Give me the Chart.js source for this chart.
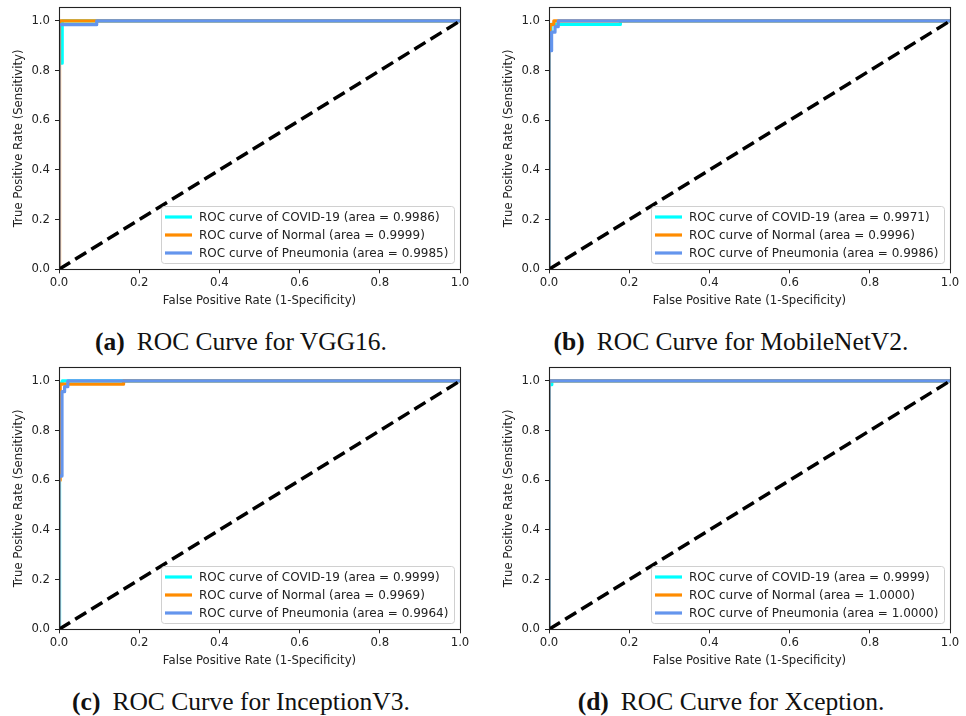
<!DOCTYPE html>
<html>
<head>
<meta charset="utf-8">
<script src="https://cdn.jsdelivr.net/npm/chart.js@4.4.0/dist/chart.umd.min.js"></script>
<style>
body { margin: 0; background: #fff; width: 966px; height: 716px; position: relative; overflow: hidden; }
canvas { position: absolute; display: block; }
.caption { position: absolute; font-family: "Liberation Serif", "Times New Roman", serif; font-size: 25.5px; line-height: 30px; color: #111; white-space: nowrap; transform: translateX(-50%); }
.caption b { margin-right: 12px; }
</style>
</head>
<body>
<canvas id="roc-vgg" width="480" height="312" style="left:0;top:0"></canvas>
<canvas id="roc-mobilenet" width="476" height="312" style="left:490px;top:0"></canvas>
<canvas id="roc-inception" width="480" height="312" style="left:0;top:360px"></canvas>
<canvas id="roc-xception" width="476" height="312" style="left:490px;top:360px"></canvas>

<div class="caption" style="left:241px;top:327px"><b>(a)</b>ROC Curve for VGG16.</div>
<div class="caption" style="left:731px;top:327px"><b>(b)</b>ROC Curve for MobileNetV2.</div>
<div class="caption" style="left:241px;top:687px"><b>(c)</b>ROC Curve for InceptionV3.</div>
<div class="caption" style="left:731px;top:687px"><b>(d)</b>ROC Curve for Xception.</div>

<script>
var xTicks = [0, 0.2, 0.4, 0.6, 0.8, 1.0];
var yTicks = [0, 0.2, 0.4, 0.6, 0.8, 1.0];
var classNames = ['COVID-19', 'Normal', 'Pneumonia'];
var diagonalFpr = [0, 1];
var diagonalTpr = [0, 1];

// VGG16
var vggCovidFpr = [0, 0, 0.008, 0.008, 1];
var vggCovidTpr = [0, 0.83, 0.83, 1, 1];
var vggNormalFpr = [0, 0, 0.002, 0.002, 1];
var vggNormalTpr = [0, 0.97, 0.97, 1, 1];
var vggPneuFpr = [0, 0, 0.094, 0.094, 1];
var vggPneuTpr = [0, 0.985, 0.985, 1, 1];
var vggAreas = [0.9986, 0.9999, 0.9985];

// MobileNetV2
var mobCovidFpr = [0, 0, 0.005, 0.005, 0.178, 0.178, 1];
var mobCovidTpr = [0, 0.9, 0.9, 0.986, 0.986, 1, 1];
var mobNormalFpr = [0, 0, 0.003, 0.003, 0.012, 0.012, 1];
var mobNormalTpr = [0, 0.89, 0.89, 0.985, 0.985, 1, 1];
var mobPneuFpr = [0, 0, 0.0065, 0.0065, 0.015, 0.015, 0.023, 0.023, 1];
var mobPneuTpr = [0, 0.88, 0.88, 0.955, 0.955, 0.977, 0.977, 1, 1];
var mobAreas = [0.9971, 0.9996, 0.9986];

// InceptionV3
var incCovidFpr = [0, 0, 0.002, 0.002, 0.008, 0.008, 1];
var incCovidTpr = [0, 0.96, 0.96, 0.99, 0.99, 1, 1];
var incNormalFpr = [0, 0, 0.003, 0.003, 0.161, 0.161, 1];
var incNormalTpr = [0, 0.6, 0.6, 0.987, 0.987, 1, 1];
var incPneuFpr = [0, 0, 0.0075, 0.0075, 0.014, 0.014, 0.022, 0.022, 1];
var incPneuTpr = [0, 0.617, 0.617, 0.957, 0.957, 0.977, 0.977, 1, 1];
var incAreas = [0.9999, 0.9969, 0.9964];

// Xception
var xcpCovidFpr = [0, 0, 0.007, 0.007, 1];
var xcpCovidTpr = [0, 0.985, 0.985, 1, 1];
var xcpNormalFpr = [0, 0, 1];
var xcpNormalTpr = [0, 1, 1];
var xcpPneuFpr = [0, 0, 1];
var xcpPneuTpr = [0, 1, 1];
var xcpAreas = [0.9999, 1.0000, 1.0000];

var classColors = ['#00ffff', '#ff8c00', '#6495ed'];
var textColor = '#222';
var fontFamily = '"DejaVu Sans", sans-serif';
var fontSize = 11.7;
var legendFontSize = 12;

function toPoints(xs, ys) {
    var pts = [];
    for (var i = 0; i < xs.length; i++) {
        pts.push({ x: xs[i], y: ys[i] });
    }
    return pts;
}

// axes box drawn over the curves, like matplotlib spines
var spinesPlugin = {
    id: 'spines',
    afterDatasetsDraw: function (chart) {
        var a = chart.chartArea, ctx = chart.ctx;
        ctx.save();
        ctx.strokeStyle = '#222';
        ctx.lineWidth = 1.1;
        ctx.strokeRect(Math.round(a.left) + 0.5, Math.round(a.top) + 0.5,
            Math.round(a.right) - Math.round(a.left), Math.round(a.bottom) - Math.round(a.top));
        ctx.restore();
    }
};

// legend box in the lower right corner of the plot area
var innerLegend = {
    id: 'innerLegend',
    afterDraw: function (chart) {
        var a = chart.chartArea, ctx = chart.ctx;
        var items = chart.data.datasets.filter(function (d) { return d.inLegend; });
        ctx.save();
        ctx.font = legendFontSize + 'px ' + fontFamily;
        var maxW = 0;
        items.forEach(function (d) { maxW = Math.max(maxW, ctx.measureText(d.label).width); });
        var boxW = Math.round(38 + maxW + 6), boxH = 57;
        var bx = Math.round(a.right) - 6 - boxW, by = Math.round(a.bottom) - 6 - boxH;
        ctx.beginPath();
        ctx.roundRect(bx + 0.5, by + 0.5, boxW, boxH, 3);
        ctx.fillStyle = 'rgba(255,255,255,0.8)';
        ctx.fill();
        ctx.strokeStyle = '#d0d0d0';
        ctx.lineWidth = 1;
        ctx.stroke();
        items.forEach(function (d, i) {
            var cy = by + 11 + i * 18;
            ctx.beginPath();
            ctx.moveTo(bx + 4, cy);
            ctx.lineTo(bx + 31, cy);
            ctx.strokeStyle = d.borderColor;
            ctx.lineWidth = 3.2;
            ctx.stroke();
            ctx.fillStyle = textColor;
            ctx.textBaseline = 'middle';
            ctx.fillText(d.label, bx + 38, cy + 0.5);
        });
        ctx.restore();
    }
};

function bindRocChart(id, fprs, tprs, areas) {
    var datasets = [];
    for (var i = 0; i < 3; i++) {
        datasets.push({
            label: 'ROC curve of ' + classNames[i] + ' (area = ' + areas[i].toFixed(4) + ')',
            data: toPoints(fprs[i], tprs[i]),
            borderColor: classColors[i],
            borderWidth: 3.2,
            borderJoinStyle: 'round',
            pointRadius: 0,
            showLine: true,
            fill: false,
            clip: 0,
            order: 3 - i,
            inLegend: true
        });
    }
    datasets.push({
        label: 'chance',
        data: toPoints(diagonalFpr, diagonalTpr),
        borderColor: '#000',
        borderWidth: 3.5,
        borderDash: [13, 6],
        pointRadius: 0,
        showLine: true,
        fill: false,
        clip: 0,
        order: 0
    });

    var tickFont = { family: fontFamily, size: fontSize };
    var ctx = document.getElementById(id).getContext('2d');
    return new Chart(ctx, {
        type: 'scatter',
        data: { datasets: datasets },
        plugins: [spinesPlugin, innerLegend],
        options: {
            responsive: false,
            animation: false,
            layout: { padding: { left: 0, top: 7.3, right: ctx.canvas.width - 460, bottom: 0 } },
            plugins: { legend: { display: false }, tooltip: { enabled: false } },
            scales: {
                x: {
                    type: 'linear', min: 0, max: 1,
                    afterBuildTicks: function (s) { s.ticks = xTicks.map(function (v) { return { value: v }; }); },
                    afterFit: function (s) { s.height = 312 - 269.3; s.paddingLeft = 0; s.paddingRight = 0; },
                    ticks: {
                        font: tickFont, color: textColor, padding: 3, maxRotation: 0, autoSkip: false,
                        callback: function (v) { return Number(v).toFixed(1); }
                    },
                    grid: { drawOnChartArea: false, drawTicks: true, tickLength: 4, tickColor: '#222', tickWidth: 1 },
                    border: { display: false },
                    title: { display: true, text: 'False Positive Rate (1-Specificity)', font: tickFont, color: textColor, padding: { top: 0, bottom: 4 } }
                },
                y: {
                    type: 'linear', min: 0, max: 1.055,
                    afterBuildTicks: function (s) { s.ticks = yTicks.map(function (v) { return { value: v }; }); },
                    afterFit: function (s) { s.width = 59; s.paddingTop = 0; s.paddingBottom = 0; },
                    ticks: {
                        font: tickFont, color: textColor, padding: 5, autoSkip: false,
                        callback: function (v) { return Number(v).toFixed(1); }
                    },
                    grid: { drawOnChartArea: false, drawTicks: true, tickLength: 4, tickColor: '#222', tickWidth: 1 },
                    border: { display: false },
                    title: { display: true, text: 'True Positive Rate (Sensitivity)', font: tickFont, color: textColor, padding: { top: 12, bottom: 0 } }
                }
            }
        }
    });
}

bindRocChart('roc-vgg',
    [vggCovidFpr, vggNormalFpr, vggPneuFpr],
    [vggCovidTpr, vggNormalTpr, vggPneuTpr], vggAreas);
bindRocChart('roc-mobilenet',
    [mobCovidFpr, mobNormalFpr, mobPneuFpr],
    [mobCovidTpr, mobNormalTpr, mobPneuTpr], mobAreas);
bindRocChart('roc-inception',
    [incCovidFpr, incNormalFpr, incPneuFpr],
    [incCovidTpr, incNormalTpr, incPneuTpr], incAreas);
bindRocChart('roc-xception',
    [xcpCovidFpr, xcpNormalFpr, xcpPneuFpr],
    [xcpCovidTpr, xcpNormalTpr, xcpPneuTpr], xcpAreas);
</script>
</body>
</html>
